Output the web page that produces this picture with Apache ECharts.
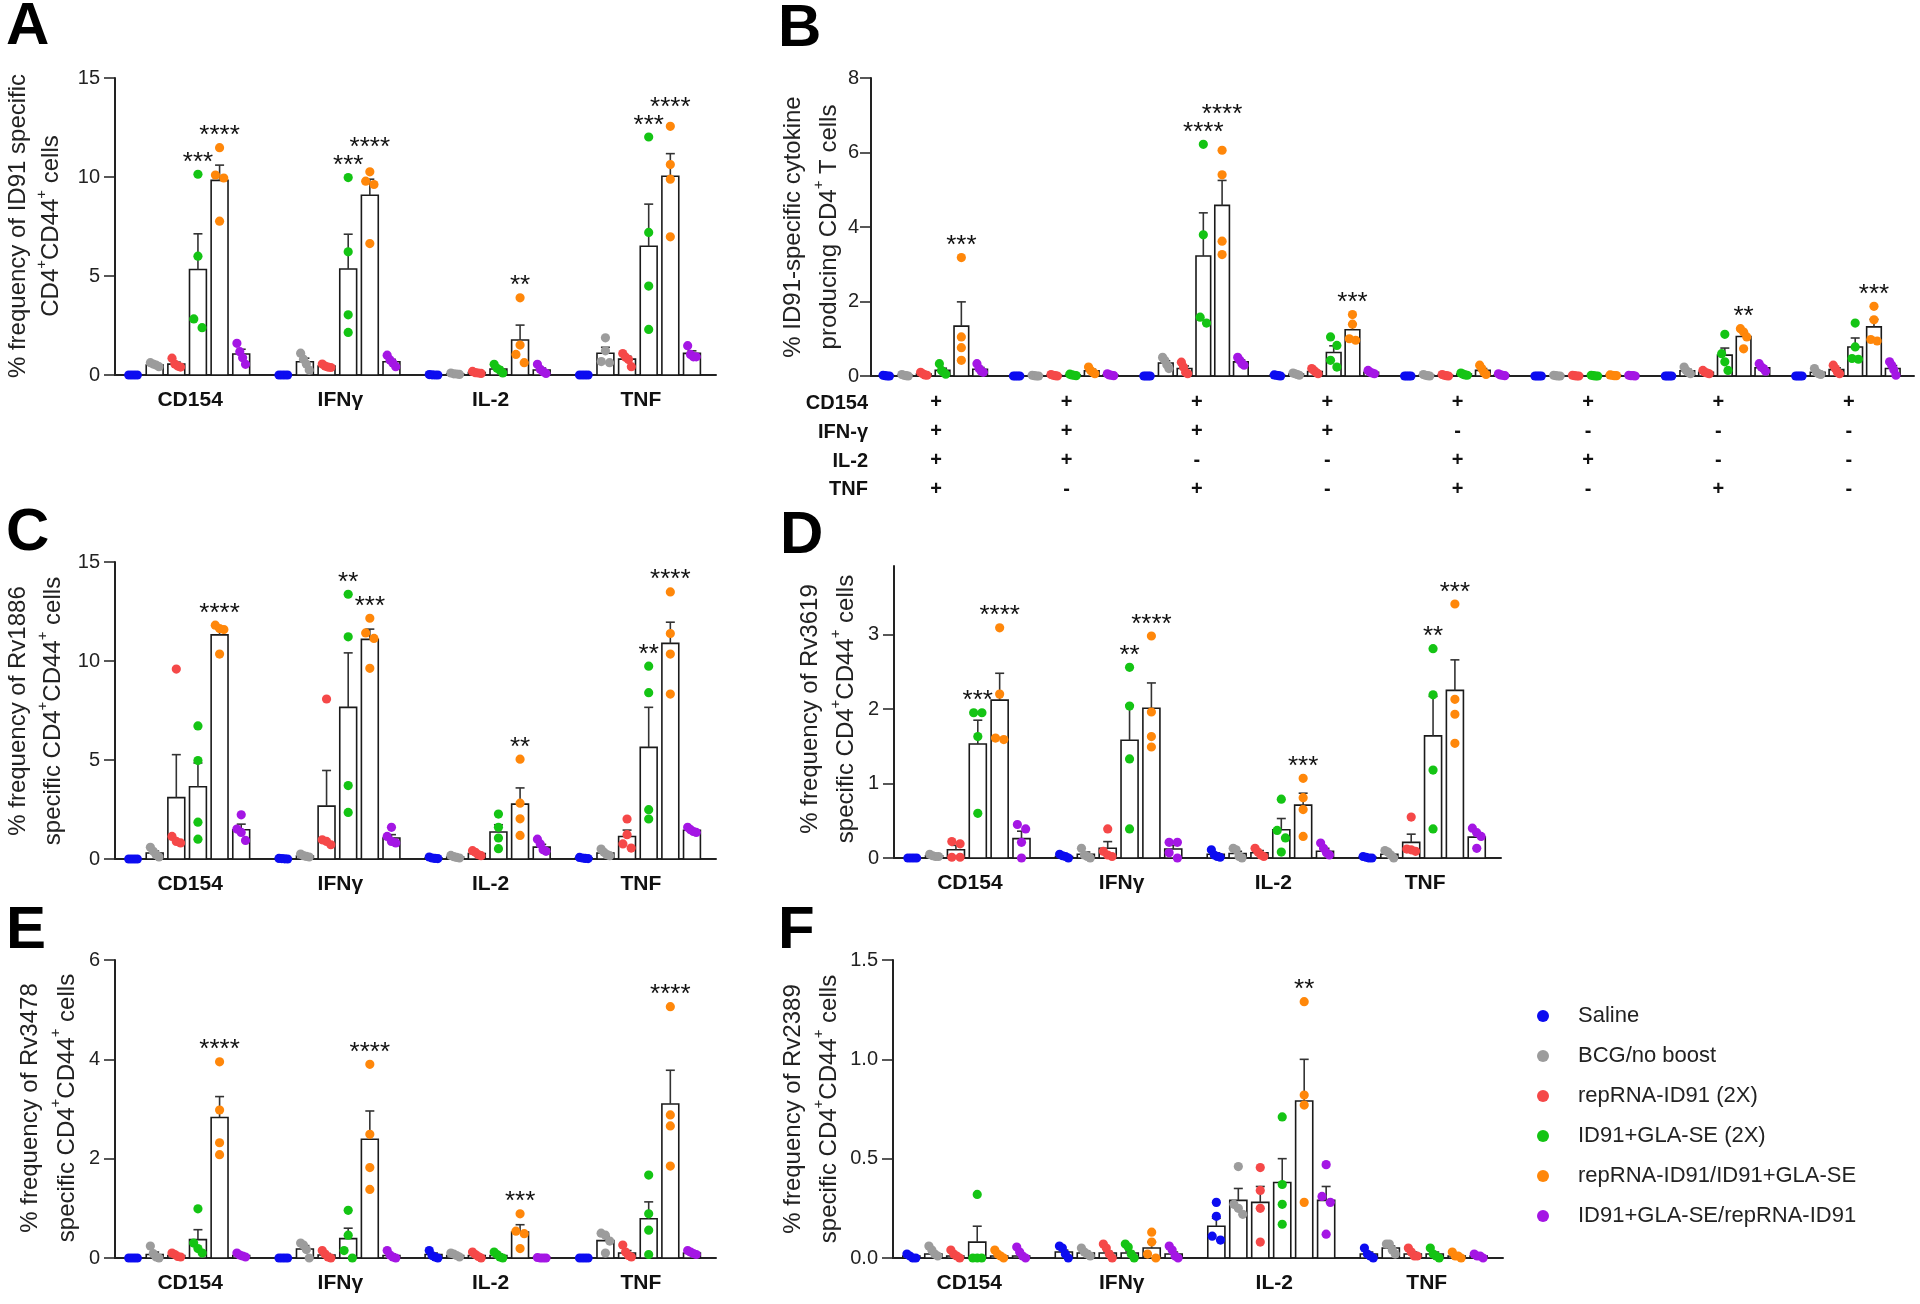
<!DOCTYPE html>
<html><head><meta charset="utf-8">
<script src="https://cdn.jsdelivr.net/npm/echarts@6/dist/echarts.min.js"></script>
<style>html,body{margin:0;padding:0;background:#fff}#c{width:1920px;height:1304px}</style>
</head><body><div id="c"></div>
<script>
// ---------------- DATA ----------------
const groups = ['Saline','BCG/no boost','repRNA-ID91 (2X)','ID91+GLA-SE (2X)','repRNA-ID91/ID91+GLA-SE','ID91+GLA-SE/repRNA-ID91'];
const cytokines = ['CD154','IFNγ','IL-2','TNF'];
const comboRowNames = ['CD154','IFN-γ','IL-2','TNF'];
const comboCats = ['++++','+++-','++-+','++--','+-++','+-+-','+--+','+---'];

// Panel A: ID91
const A_mean = [[0,0,0,0],[0.5,0.67,0.06,1.1],[0.55,0.45,0.12,0.8],[5.33,5.35,0.3,6.5],[9.83,9.08,1.77,10.04],[1.06,0.67,0.25,1.09]];
const A_sem  = [[0,0,0,0],[0.05,0.18,0.02,0.3],[0.1,0.04,0.03,0.15],[1.8,1.76,0.09,2.13],[0.77,0.81,0.75,1.14],[0.24,0.12,0.1,0.13]];
const A_pts = [
  [[0,0,0,0],[0,0,0,0],[0.02,0,0,0.01],[0,0,0,0]],
  [[0.62,0.5,0.42,0.55],[1.1,0.8,0.55,0.25],[0.1,0.06,0.03,0.05],[1.88,1.22,0.68,0.62]],
  [[0.85,0.55,0.4,0.45],[0.55,0.45,0.4,0.38],[0.18,0.12,0.08,0.1],[1.08,0.9,0.78,0.42]],
  [[10.14,6.0,2.83,2.39],[9.97,6.22,3.04,2.15],[0.54,0.34,0.25,0.1],[12.02,7.2,4.49,2.3]],
  [[11.48,10.1,9.95,7.77],[10.26,9.79,9.62,6.64],[3.9,1.51,1.04,0.62],[12.56,10.63,9.89,6.98]],
  [[1.6,1.18,0.87,0.54],[1.0,0.76,0.6,0.42],[0.54,0.29,0.17,0.08],[1.48,1.04,0.92,0.92]]
];
const A_stars = [null,null,null,['***','***','','***'],['****','****','**','****'],null];

// Panel B: ID91 polyfunctional combinations
const B_mean = [
  [0.01,0,0,0.02,0,0,0,0],
  [0.02,0.01,0.35,0.05,0.02,0.01,0.14,0.1],
  [0.05,0.02,0.2,0.12,0.02,0.01,0.1,0.17],
  [0.15,0.03,3.22,0.63,0.05,0.01,0.56,0.78],
  [1.34,0.14,4.58,1.24,0.15,0.02,1.06,1.32],
  [0.18,0.03,0.38,0.1,0.03,0.01,0.22,0.2]
];
const B_sem = [
  [0,0,0,0,0,0,0,0],
  [0.01,0,0.06,0.02,0.01,0,0.04,0.04],
  [0.02,0.01,0.07,0.03,0.01,0,0.02,0.05],
  [0.06,0.01,1.16,0.18,0.02,0,0.19,0.24],
  [0.65,0.04,0.67,0.16,0.05,0.01,0.12,0.2],
  [0.05,0.01,0.05,0.02,0.01,0,0.04,0.08]
];
const B_pts = [
  [[0.02,0.01,0,0],[0,0,0,0],[0,0,0,0],[0.03,0.02,0.01,0],[0,0,0,0],[0,0,0,0],[0,0,0,0],[0,0,0,0]],
  [[0.04,0.02,0.01,0],[0.02,0.01,0,0],[0.5,0.42,0.3,0.2],[0.08,0.06,0.04,0.02],[0.04,0.02,0.01,0],[0.02,0.01,0,0],[0.24,0.15,0.1,0.06],[0.2,0.1,0.06,0.04]],
  [[0.1,0.06,0.03,0.02],[0.04,0.02,0.01,0],[0.37,0.24,0.1,0.06],[0.2,0.15,0.1,0.06],[0.04,0.02,0.01,0],[0.02,0.01,0,0],[0.15,0.1,0.08,0.06],[0.29,0.2,0.1,0.06]],
  [[0.33,0.15,0.1,0.05],[0.05,0.03,0.02,0.01],[6.22,3.79,1.58,1.42],[1.05,0.82,0.42,0.24],[0.08,0.05,0.03,0.02],[0.02,0.01,0,0],[1.12,0.6,0.38,0.15],[1.42,0.78,0.47,0.45]],
  [[3.18,1.05,0.76,0.42],[0.24,0.15,0.1,0.06],[6.06,5.4,3.62,3.26],[1.65,1.39,1.0,0.96],[0.29,0.2,0.1,0.04],[0.03,0.02,0.01,0.01],[1.27,1.18,1.05,0.73],[1.87,1.51,0.98,0.94]],
  [[0.33,0.2,0.13,0.1],[0.06,0.03,0.02,0.01],[0.5,0.42,0.33,0.29],[0.15,0.1,0.08,0.06],[0.06,0.03,0.02,0.01],[0.02,0.01,0.01,0],[0.33,0.24,0.2,0.13],[0.38,0.29,0.17,0.02]]
];
const B_stars = [null,null,null,['','','****','','','','',''],['***','','****','***','','','**','***'],null];

// Panel C: Rv1886
const C_mean = [[0,0.02,0.05,0.05],[0.3,0.15,0.1,0.3],[3.1,2.67,0.28,1.14],[3.65,7.66,1.36,5.64],[11.32,11.09,2.77,10.89],[1.48,1.06,0.6,1.45]];
const C_sem  = [[0,0.01,0.02,0.02],[0.1,0.03,0.03,0.07],[2.17,1.8,0.06,0.32],[1.2,2.75,0.37,2.02],[0.3,0.52,0.82,1.07],[0.28,0.17,0.14,0.06]];
const C_pts = [
  [[0,0,0,0],[0.03,0.02,0.01,0],[0.1,0.05,0.03,0.02],[0.08,0.05,0.03,0.02]],
  [[0.59,0.39,0.22,0.1],[0.25,0.17,0.13,0.1],[0.18,0.12,0.08,0.05],[0.5,0.34,0.22,0.17]],
  [[9.59,1.14,0.89,0.81],[8.08,0.97,0.89,0.72],[0.42,0.34,0.22,0.17],[2.02,1.23,0.76,0.55]],
  [[6.72,4.97,1.86,1.0],[13.37,11.22,3.71,2.35],[2.27,1.6,1.06,0.52],[9.74,8.4,2.49,2.02]],
  [[11.81,11.64,11.59,10.35],[12.16,11.42,11.14,9.63],[5.04,2.82,2.03,1.19],[13.49,11.39,10.35,8.33]],
  [[2.23,1.51,1.34,0.94],[1.6,1.14,0.89,0.81],[1.0,0.76,0.47,0.39],[1.6,1.48,1.39,1.34]]
];
const C_stars = [null,null,null,['','**','','**'],['****','***','**','****'],null];

// Panel D: Rv3619
const D_mean = [[0,0.02,0.05,0.01],[0.03,0.05,0.06,0.05],[0.11,0.13,0.07,0.21],[1.53,1.58,0.38,1.64],[2.12,2.01,0.71,2.25],[0.26,0.12,0.09,0.28]];
const D_sem  = [[0,0.01,0.02,0.01],[0.01,0.03,0.03,0.02],[0.06,0.09,0.03,0.11],[0.32,0.47,0.15,0.53],[0.36,0.34,0.16,0.41],[0.1,0.05,0.04,0.06]];
const D_pts = [
  [[0,0,0,0],[0.05,0.03,0.02,0],[0.11,0.04,0.02,0.01],[0.02,0.01,0,0]],
  [[0.05,0.03,0.02,0.02],[0.13,0.04,0.02,0],[0.13,0.11,0.02,0],[0.1,0.08,0.04,0]],
  [[0.22,0.19,0.01,0.01],[0.39,0.09,0.04,0.02],[0.13,0.08,0.04,0.02],[0.55,0.12,0.11,0.09]],
  [[1.95,1.95,1.63,0.6],[2.56,2.04,1.33,0.39],[0.79,0.37,0.27,0.08],[2.81,2.19,1.18,0.39]],
  [[3.09,2.2,1.61,1.59],[2.98,1.96,1.63,1.49],[1.07,0.81,0.65,0.29],[3.41,2.13,1.93,1.54]],
  [[0.45,0.39,0.21,0],[0.21,0.21,0.07,0],[0.2,0.13,0.07,0.04],[0.4,0.34,0.29,0.13]]
];
const D_stars = [null,null,null,['***','**','','**'],['****','****','***','***'],null];

// Panel E: Rv3478
const E_mean = [[0,0,0.07,0],[0.07,0.18,0.05,0.35],[0.05,0.06,0.05,0.1],[0.37,0.39,0.05,0.79],[2.83,2.39,0.52,3.1],[0.05,0.05,0.01,0.1]];
const E_sem  = [[0,0,0.03,0],[0.05,0.07,0.02,0.09],[0.02,0.03,0.03,0.05],[0.2,0.21,0.03,0.34],[0.42,0.57,0.15,0.68],[0.02,0.03,0,0.02]];
const E_pts = [
  [[0,0,0,0],[0,0,0,0],[0.15,0.05,0.02,0],[0,0,0,0]],
  [[0.24,0.09,0.02,0],[0.3,0.26,0.17,0],[0.1,0.08,0.05,0.02],[0.5,0.46,0.34,0.1]],
  [[0.1,0.07,0.03,0.02],[0.15,0.08,0.02,0],[0.12,0.07,0.03,0],[0.26,0.12,0.05,0.02]],
  [[0.99,0.3,0.19,0.1],[0.96,0.46,0.15,0],[0.12,0.07,0.02,0],[1.67,0.89,0.56,0.07]],
  [[3.95,2.98,2.32,2.08],[3.9,2.49,1.82,1.38],[0.89,0.54,0.49,0.19],[5.06,2.88,2.66,1.85]],
  [[0.1,0.06,0.04,0.02],[0.15,0.06,0.02,0],[0.01,0,0,0],[0.15,0.12,0.09,0.07]]
];
const E_stars = [null,null,null,null,['****','****','***','****'],null];

// Panel F: Rv2389
const F_mean = [[0.01,0.03,0.16,0.02],[0.02,0.025,0.29,0.05],[0.01,0.025,0.28,0.02],[0.08,0.025,0.38,0.02],[0.01,0.05,0.79,0.01],[0.01,0.02,0.29,0.01]];
const F_sem  = [[0,0.01,0.04,0.01],[0.01,0.01,0.06,0.01],[0.01,0.01,0.08,0.01],[0.08,0.01,0.12,0.01],[0.01,0.03,0.21,0.01],[0.01,0.01,0.07,0]];
const F_pts = [
  [[0.02,0.01,0,0],[0.06,0.05,0.02,0],[0.28,0.21,0.11,0.09],[0.05,0.02,0.01,0]],
  [[0.06,0.04,0.02,0.01],[0.05,0.03,0.02,0.01],[0.46,0.27,0.25,0.22],[0.07,0.07,0.04,0.02]],
  [[0.04,0.02,0.01,0],[0.07,0.05,0.02,0],[0.455,0.34,0.25,0.08],[0.05,0.03,0.01,0.01]],
  [[0.32,0,0,0],[0.07,0.055,0.02,0],[0.71,0.37,0.27,0.17],[0.05,0.02,0.01,0]],
  [[0.04,0.02,0.01,0],[0.13,0.08,0.02,0],[1.29,0.82,0.77,0.28],[0.03,0.01,0.01,0]],
  [[0.055,0.03,0.01,0],[0.06,0.04,0.01,0],[0.47,0.31,0.28,0.12],[0.02,0.01,0.01,0]]
];
const F_stars = [null,null,null,null,['','','**',''],null];

// y-axis titles (^+ marks a superscript plus)
const titleA = ['% frequency of ID91 specific','CD4^+CD44^+ cells'];
const titleB = ['% ID91-specific cytokine','producing CD4^+ T cells'];
const titleC = ['% frequency of Rv1886','specific CD4^+CD44^+ cells'];
const titleD = ['% frequency of Rv3619','specific CD4^+CD44^+ cells'];
const titleE = ['% frequency of Rv3478','specific CD4^+CD44^+ cells'];
const titleF = ['% frequency of Rv2389','specific CD4^+CD44^+ cells'];

// ---------------- STYLE / LAYOUT ----------------
const colors = ['#0c0cf0','#9c9c9c','#f54848','#14c414','#ff870a','#a416e4'];
const FONT = '"Liberation Sans", Arial, Helvetica, sans-serif';
const DOT_R = 4.6;

const panels = [
  {key:'A', cats:cytokines, mean:A_mean, sem:A_sem, pts:A_pts, stars:A_stars, title:titleA,
   grid:{left:115, top:78, width:601, height:297}, max:15, interval:5, fmt:null, labelMargin:15,
   titlePos:[34.5,226], titleLH:33, letterPos:[6,27]},
  {key:'B', cats:comboCats, mean:B_mean, sem:B_sem, pts:B_pts, stars:B_stars, title:titleB,
   grid:{left:871, top:78, width:1043, height:298}, max:8, interval:2, fmt:null, labelMargin:12,
   titlePos:[811,227], titleLH:36, letterPos:[778,29], combo:true},
  {key:'C', cats:cytokines, mean:C_mean, sem:C_sem, pts:C_pts, stars:C_stars, title:titleC,
   grid:{left:115, top:562, width:601, height:297}, max:15, interval:5, fmt:null, labelMargin:15,
   titlePos:[35.5,711], titleLH:35, letterPos:[6,533]},
  {key:'D', cats:cytokines, mean:D_mean, sem:D_sem, pts:D_pts, stars:D_stars, title:titleD,
   grid:{left:894, top:566, width:607, height:292}, max:3.92, interval:1, fmt:null, hideMax:true, labelMargin:15,
   titlePos:[828,709], titleLH:36, letterPos:[780,536]},
  {key:'E', cats:cytokines, mean:E_mean, sem:E_sem, pts:E_pts, stars:E_stars, title:titleE,
   grid:{left:115, top:960, width:601, height:298}, max:6, interval:2, fmt:null, labelMargin:15,
   titlePos:[48.5,1108], titleLH:37, letterPos:[6,931]},
  {key:'F', cats:cytokines, mean:F_mean, sem:F_sem, pts:F_pts, stars:F_stars, title:titleF,
   grid:{left:893, top:960, width:610, height:298}, max:1.5, interval:0.5, fmt:1, labelMargin:15,
   titlePos:[811,1109], titleLH:36, letterPos:[778,931]}
];

function makeRenderer(P, g) {
  function starCenter(api, gg, c) {
    const vals = P.pts[gg][c].concat([P.mean[gg][c] + P.sem[gg][c]]);
    return api.coord([c, Math.max.apply(null, vals)])[1] - DOT_R - 13;
  }
  return function (params, api) {
    const c = api.value(0);
    const mean = api.value(1), errTop = api.value(2);
    const pts = [api.value(3), api.value(4), api.value(5), api.value(6)];
    const base = api.coord([c, 0]);
    const band = api.size([1, 0])[0];
    const step = band * 0.144;
    const bw = step * 0.78;
    const cx = base[0] + (g - 2.5) * step - 3;
    const y0 = base[1];
    const yTop = api.coord([c, mean])[1];
    const kids = [];
    kids.push({type:'rect', shape:{x:cx - bw/2, y:yTop, width:bw, height:Math.max(0, y0 - yTop)},
      style:{fill:'#fff', stroke:'#1a1a1a', lineWidth:1.6}});
    if (errTop > mean) {
      const ye = api.coord([c, errTop])[1];
      kids.push({type:'line', shape:{x1:cx, y1:yTop, x2:cx, y2:ye}, style:{stroke:'#333', lineWidth:1.6}});
      kids.push({type:'line', shape:{x1:cx - 4.5, y1:ye, x2:cx + 4.5, y2:ye}, style:{stroke:'#333', lineWidth:1.6}});
    }
    // dots: cluster overlapping ones and spread them sideways
    const d = DOT_R * 2;
    const ys = pts.map(v => api.coord([c, v])[1]);
    const order = ys.map((y, i) => i).sort((a, b) => ys[a] - ys[b]);
    const clusters = [];
    let cur = [order[0]];
    for (let i = 1; i < order.length; i++) {
      if (ys[order[i]] - ys[cur[cur.length - 1]] < d * 0.95) cur.push(order[i]);
      else { clusters.push(cur); cur = [order[i]]; }
    }
    clusters.push(cur);
    clusters.forEach(cl => {
      const k = cl.length;
      const sp = k > 1 ? Math.min(d * 0.9, (bw - d * 0.9) / (k - 1)) : 0;
      cl.forEach((idx, j) => {
        kids.push({type:'circle', shape:{cx: cx + (j - (k - 1) / 2) * sp, cy: ys[idx], r: DOT_R},
          style:{fill: colors[g]}});
      });
    });
    // significance stars
    if (P.stars[g] && P.stars[g][c]) {
      let yc = starCenter(api, g, c);
      if (g === 4 && P.stars[3] && P.stars[3][c]) {
        const gy = starCenter(api, 3, c);
        if (Math.abs(yc - gy) < 18) yc = gy - 18;
      }
      kids.push({type:'text', x: cx, y: yc + 6,
        style:{text: P.stars[g][c], align:'center', verticalAlign:'middle',
          font: '26px ' + FONT, fill:'#111'}});
    }
    return {type:'group', children:kids};
  };
}

function richTitle(lines) {
  return lines.map(l => '{a|' + l.replace(/\^\+/g, '}{s|+}{a|') + '}').join('\n');
}

const grids = [], xAxes = [], yAxes = [], series = [], graphics = [];
panels.forEach((P, i) => {
  grids.push(Object.assign({outerBoundsMode:'none', containLabel:false}, P.grid));
  xAxes.push({
    type:'category', gridIndex:i, data:P.cats,
    axisLine:{show:true, lineStyle:{color:'#222', width:2}},
    axisTick:{show:false},
    splitLine:{show:false},
    axisLabel: P.combo ? {
      interval:0, margin:12, fontSize:20, fontWeight:'bold', fontFamily:FONT, color:'#111', lineHeight:29,
      formatter: v => v.split('').join('\n')
    } : {
      interval:0, margin:15, fontSize:21, fontWeight:'bold', fontFamily:FONT, color:'#111'
    }
  });
  yAxes.push({
    type:'value', gridIndex:i, min:0, max:P.max, interval:P.interval,
    axisLine:{show:true, lineStyle:{color:'#222', width:2}},
    axisTick:{show:true, length:11, lineStyle:{color:'#222', width:1.5}},
    splitLine:{show:false},
    axisLabel:{fontSize:20, fontFamily:FONT, color:'#222', margin:P.labelMargin, showMaxLabel: !P.hideMax,
      formatter: P.fmt ? (v => v.toFixed(P.fmt)) : (v => String(v))}
  });
  for (let g = 0; g < groups.length; g++) {
    const data = P.cats.map((cat, c) =>
      [c, P.mean[g][c], P.mean[g][c] + P.sem[g][c]].concat(P.pts[g][c]));
    series.push({
      type:'custom', name:groups[g], xAxisIndex:i, yAxisIndex:i,
      coordinateSystem:'cartesian2d', clip:false,
      itemStyle:{color:colors[g]},
      encode:{x:0, y:1},
      renderItem: makeRenderer(P, g),
      data: data
    });
  }
  // panel letter
  graphics.push({type:'text', x:P.letterPos[0], y:P.letterPos[1],
    style:{text:P.key, font:'bold 60px ' + FONT, fill:'#000', align:'left', verticalAlign:'middle'}});
  // y-axis title
  graphics.push({type:'text', x:P.titlePos[0], y:P.titlePos[1], rotation:Math.PI / 2,
    style:{text: richTitle(P.title), align:'center', verticalAlign:'middle', fill:'#222',
      rich:{
        a:{fontSize:24, fontFamily:FONT, lineHeight:P.titleLH, fill:'#222'},
        s:{fontSize:15, fontFamily:FONT, lineHeight:15, verticalAlign:'top', fill:'#222'}
      }}});
});

// row labels of panel B combination table
const rowY = [403, 432, 461, 489];
comboRowNames.forEach((name, r) => {
  graphics.push({type:'text', x:868, y:rowY[r],
    style:{text:name, font:'bold 20px ' + FONT, fill:'#111', align:'right', verticalAlign:'middle'}});
});

const chart = echarts.init(document.getElementById('c'), null, {renderer:'canvas', width:1920, height:1304});
chart.setOption({
  animation:false,
  backgroundColor:'#fff',
  grid:grids, xAxis:xAxes, yAxis:yAxes, series:series,
  legend:{
    data:groups, orient:'vertical', left:1532, top:999,
    icon:'circle', itemWidth:60, itemHeight:12, itemGap:16, selectedMode:false,
    textStyle:{fontSize:22, fontFamily:FONT, color:'#222', lineHeight:24}
  },
  graphic:{elements:graphics}
});
</script></body></html>
